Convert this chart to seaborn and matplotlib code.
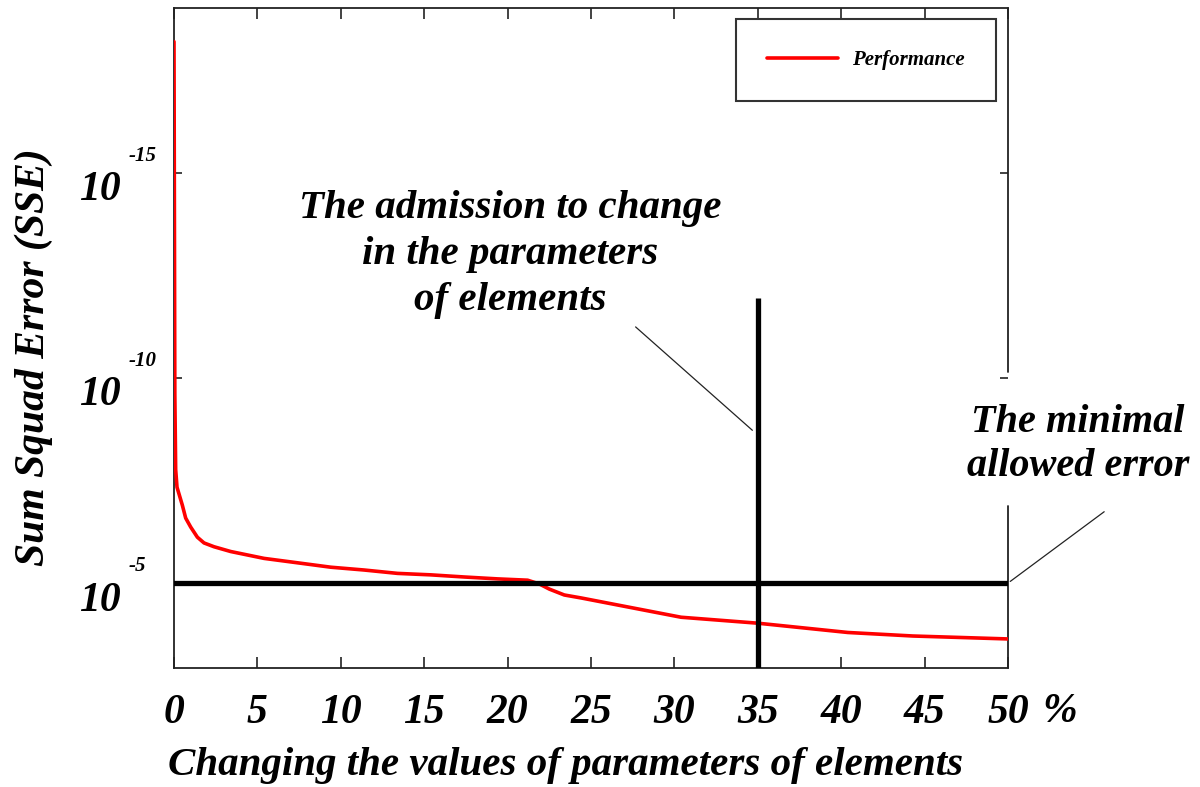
import numpy as np
import pandas as pd
import matplotlib
matplotlib.use("Agg")
import matplotlib.pyplot as plt
import matplotlib.transforms as mtransforms
from matplotlib.ticker import NullLocator
import seaborn as sns

# ---- data ----
change_pct = [0.0, 0.05, 0.1, 0.18, 0.5, 0.7, 1.0, 1.4, 1.8, 2.4, 3.4, 5.4, 7.4, 9.4,
              11.4, 13.4, 15.4, 17.4, 19.4, 21.2, 21.9, 22.5, 23.4, 24.4, 30.4, 35.0,
              40.4, 44.3, 50.0]
sse_values = [6.3e-19, 2.5e-10, 1.7e-8, 4.6e-8, 1.26e-7, 2.6e-7, 4.3e-7, 7.6e-7, 1.05e-6,
              1.3e-6, 1.7e-6, 2.5e-6, 3.2e-6, 4.1e-6, 4.8e-6, 5.8e-6, 6.3e-6, 7.1e-6,
              7.9e-6, 8.5e-6, 1.05e-5, 1.4e-5, 1.95e-5, 2.3e-5, 6.8e-5, 9.5e-5, 1.6e-4,
              1.95e-4, 2.3e-4]
series_label = "Performance"
x_ticks = [0, 5, 10, 15, 20, 25, 30, 35, 40, 45, 50]
y_ticks = [1e-15, 1e-10, 1e-5]
y_tick_base = ["10", "10", "10"]
y_tick_exp = ["-15", "-10", "-5"]
min_allowed_error = 1e-5
admission_pct = 35
admission_top = 1.1e-12

df = pd.DataFrame({"change": change_pct, "sse": sse_values})

sns.set_theme(style="white")
plt.rcParams["font.family"] = ["Liberation Serif", "DejaVu Serif"]
plt.rcParams["text.color"] = "black"
plt.rcParams["axes.labelcolor"] = "black"

fig = plt.figure(figsize=(12, 7.87), dpi=100)
L, R, B, T = 174 / 1200, 1008 / 1200, 1 - 668 / 787, 1 - 8 / 787
ax = fig.add_axes([L, B, R - L, T - B])

sns.lineplot(data=df, x="change", y="sse", color="#ff0000", lw=2.6, ax=ax,
             label=series_label, zorder=2.7)

ax.set_yscale("log")
ax.set_xlim(0, 50)
ax.set_ylim(10 ** -2.93, 10 ** -19.02)   # inverted, as in the reference

# threshold lines
ax.axhline(min_allowed_error, xmin=0, xmax=1, color="black", lw=3.8, zorder=3)
ax.vlines(admission_pct, admission_top, 10 ** -2.5, color="black", lw=3.8, zorder=3)

# ticks
ax.set_xticks(x_ticks)
ax.set_xticklabels([str(t) for t in x_ticks])
ax.set_yticks(y_ticks)
ax.set_yticklabels(y_tick_base)
ax.yaxis.set_minor_locator(NullLocator())
ax.tick_params(axis="x", which="both", direction="in", length=8, width=1.2,
               top=True, bottom=True, pad=19, labelsize=30, colors="#222222",
               labelcolor="black")
ax.tick_params(axis="y", which="major", direction="in", length=6, width=1.2,
               left=True, right=True, pad=38, labelsize=30, colors="#222222",
               labelcolor="black")
for lab in ax.get_xticklabels():
    lab.set_fontweight("bold")
    lab.set_fontstyle("italic")
shift = mtransforms.ScaledTranslation(0, -13 / 100, fig.dpi_scale_trans)
for lab in ax.get_yticklabels():
    lab.set_fontweight("bold")
    lab.set_fontstyle("italic")
    lab.set_transform(lab.get_transform() + shift)

blend = mtransforms.blended_transform_factory(ax.transAxes, ax.transData)
for yv, ex in zip(y_ticks, y_tick_exp):
    ax.annotate(ex, xy=(-0.055, yv), xycoords=blend, xytext=(0, 12), textcoords="offset points",
                ha="left", va="center", fontsize=15, fontweight="bold", fontstyle="italic",
                annotation_clip=False)

fig.text(1060 / 1200, 1 - 712 / 787, "%", ha="center", va="center", fontsize=30,
         fontweight="bold", fontstyle="italic")

# spines
for s in ["left", "top", "bottom"]:
    ax.spines[s].set_color("#222222")
    ax.spines[s].set_linewidth(1.3)
ax.spines["right"].set_visible(False)
ax.axvline(50, ymin=0, ymax=0.2455, color="#222222", lw=1.3, clip_on=False)
ax.axvline(50, ymin=0.4485, ymax=1, color="#222222", lw=1.3, clip_on=False)

# labels
ax.set_xlabel("Changing the values of parameters of elements", fontsize=29.5,
              fontweight="bold", fontstyle="italic")
ax.set_ylabel("Sum Squad Error (SSE)", fontsize=30, fontweight="bold", fontstyle="italic")
ax.xaxis.set_label_coords(0.469, -0.12)
ax.yaxis.set_label_coords(-0.145, 0.471)

# annotations
fig.text(510 / 1200, 1 - 190 / 787,
         "The admission to change\nin the parameters\nof elements",
         ha="center", va="top", multialignment="center", fontsize=29.5,
         fontweight="bold", fontstyle="italic", linespacing=1.33)
fig.text(1078 / 1200, 1 - 404 / 787, "The minimal\nallowed error",
         ha="center", va="top", multialignment="center", fontsize=29,
         fontweight="bold", fontstyle="italic", linespacing=1.25)
ax.annotate("", xy=(34.8, 10 ** -8.68), xytext=(27.55, 10 ** -11.29),
            arrowprops=dict(arrowstyle="-", lw=0.9, color="#222222"), annotation_clip=False)
ax.annotate("", xy=(50, min_allowed_error), xytext=(55.9, 10 ** -6.78),
            arrowprops=dict(arrowstyle="-", lw=0.9, color="#222222"), annotation_clip=False)

leg = ax.legend(loc="upper right", bbox_to_anchor=(0.9985, 0.9995), frameon=True,
                fancybox=False, handlelength=3.4, handletextpad=0.7, borderpad=1.5,
                prop=dict(family="Liberation Serif", style="italic", weight="bold", size=15))
leg.get_frame().set_edgecolor("#333333")
leg.get_frame().set_linewidth(1.5)
leg.get_frame().set_facecolor("white")
leg.get_frame().set_alpha(1)

fig.savefig("out.png", dpi=100, facecolor="white")
